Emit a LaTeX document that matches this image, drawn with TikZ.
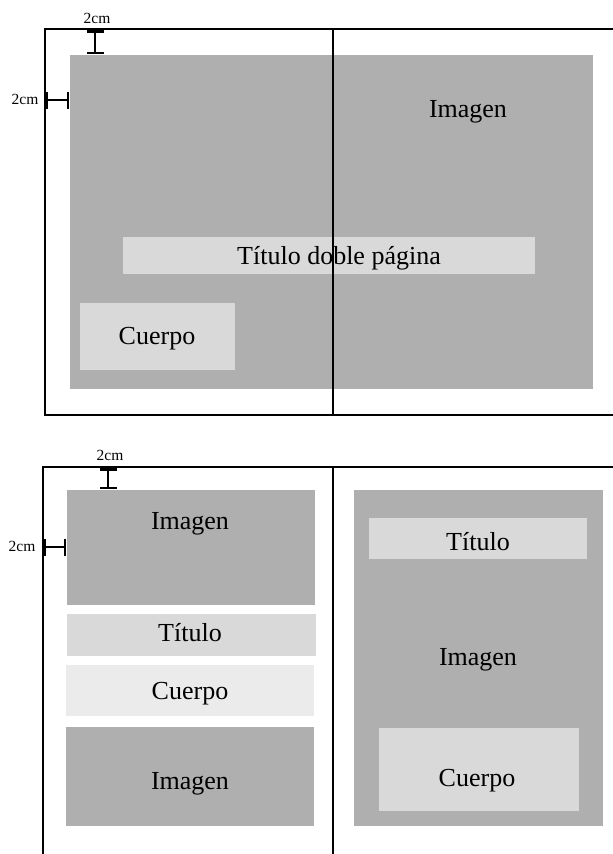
\documentclass[tikz,border=0pt]{standalone}
\usepackage{fontspec}
\setmainfont{Liberation Serif}
\usetikzlibrary{arrows.meta}
\definecolor{imggray}{HTML}{AFAFAF}
\definecolor{titlegray}{HTML}{D9D9D9}
\definecolor{bodygray}{HTML}{EBEBEB}
\begin{document}
\begin{tikzpicture}[x=1pt, y=-1pt,
    frame/.style = {line width=2pt},
    lbl/.style = {font=\fontsize{26}{30}\selectfont, inner sep=0pt, yshift=-3.5pt},
    dimlbl/.style = {font=\fontsize{15.5}{18}\selectfont, inner sep=0pt},
    dimline/.style = {line width=2.5pt, {Bar[width=17pt]}-{Bar[width=17pt]}}]
    \useasboundingbox (0,0) rectangle (613,854);
    % doble pagina
    \fill[imggray] (70,55) rectangle (593,389);
    \fill[titlegray] (123,237) rectangle (535,274);
    \fill[titlegray] (80,303) rectangle (235,370);
    \node[lbl] (img1) at (468,108) {Imagen};
    \node[lbl] (tit1) at (339,255) {Título doble página};
    \node[lbl] (cue1) at (157,335) {Cuerpo};
    \draw[frame] (613,29) -- (45,29) -- (45,415) -- (613,415);
    \draw[frame] (333,29) -- (333,415);
    \coordinate (a1) at (95,30);
    \coordinate (a2) at (95,54);
    \coordinate (a3) at (45,100);
    \coordinate (a4) at (69,100);
    \draw[dimline] (a1) -- (a2);
    \draw[dimline] (a3) -- (a4);
    \node[dimlbl] (d1) at (97,18) {2cm};
    \node[dimlbl] (d2) at (25,99) {2cm};
    % paginas separadas
    \fill[imggray] (67,490) rectangle (315,605);
    \fill[titlegray] (67,614) rectangle (316,656);
    \fill[bodygray] (66,665) rectangle (314,716);
    \fill[imggray] (66,727) rectangle (314,826);
    \fill[imggray] (354,490) rectangle (603,826);
    \fill[titlegray] (369,518) rectangle (587,559);
    \fill[titlegray] (379,728) rectangle (579,811);
    \node[lbl] (img2) at (190,520) {Imagen};
    \node[lbl] (tit2) at (190,629.5) {Título};
    \node[lbl] (cue2) at (190,690) {Cuerpo};
    \node[lbl] (img3) at (190,780) {Imagen};
    \node[lbl] (tit3) at (478,538) {Título};
    \node[lbl] (img4) at (478,656) {Imagen};
    \node[lbl] (cue3) at (477,777) {Cuerpo};
    \draw[frame] (43,854) -- (43,467) -- (613,467);
    \draw[frame] (333,467) -- (333,854);
    \coordinate (b1) at (108,468);
    \coordinate (b2) at (108,489);
    \coordinate (b3) at (43,547);
    \coordinate (b4) at (66,547);
    \draw[dimline] (b1) -- (b2);
    \draw[dimline] (b3) -- (b4);
    \node[dimlbl] (d3) at (110,455) {2cm};
    \node[dimlbl] (d4) at (22,546) {2cm};
\end{tikzpicture}
\end{document}
